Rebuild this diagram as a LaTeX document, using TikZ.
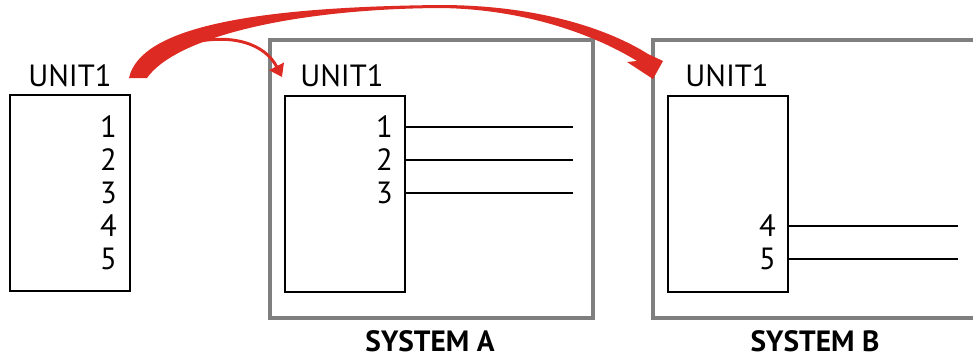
\documentclass[tikz,border=0pt]{standalone}
\usepackage{fontspec}
\setmainfont{PT Sans}
\usetikzlibrary{arrows.meta}
\definecolor{arrred}{HTML}{DD2A22}
\definecolor{sysgray}{HTML}{7F7F7F}
\begin{document}
\begin{tikzpicture}[x=0.75pt,y=-0.75pt,
  sysbox/.style={draw=sysgray, line width=3pt, anchor=north west, inner sep=0, outer sep=0},
  unitbox/.style={draw=black, line width=1pt, anchor=north west, minimum width=90pt, minimum height=147pt, inner sep=0, outer sep=0},
  lbl/.style={font=\fontsize{23}{23}\selectfont, inner sep=0},
  num/.style={lbl, anchor=east},
  syslbl/.style={font=\fontsize{22}{22}\selectfont\bfseries, inner sep=0, anchor=base},
  wire/.style={draw=black, line width=1pt}]
\useasboundingbox (0,0) rectangle (973,358);
\clip (0,0) rectangle (973,358);

% left unit
\node[lbl] (t0) at (70,76) {UNIT1};
\node[unitbox] (u0) at (10,95) {};
\foreach \i/\y in {1/127,2/160,3/193,4/226,5/259}
  \node[num] (l\i) at (117,\y) {\i};

% system A
\node[sysbox, minimum width=242.25pt, minimum height=208.5pt] (sa) at (270,40) {};
\node[lbl] (ta) at (342,76) {UNIT1};
\node[unitbox] (ua) at (285,96) {};
\foreach \i/\y in {1/127,2/160,3/193}{
  \node[num] (a\i) at (393,\y) {\i};
  \coordinate (ae\i) at (573,\y);
  \draw[wire] (ua.east |- a\i) -- (ae\i);
}
\node[syslbl] (la) at (430,351) {SYSTEM A};

% system B
\node[sysbox, minimum width=250pt, minimum height=208.5pt] (sb) at (653,40) {};
\node[lbl] (tb) at (727,76) {UNIT1};
\node[unitbox] (ub) at (668,96) {};
\foreach \i/\y in {4/226,5/259}{
  \node[num] (b\i) at (776,\y) {\i};
  \coordinate (be\i) at (958,\y);
  \draw[wire] (ub.east |- b\i) -- (be\i);
}
\node[syslbl] (lb) at (815,351) {SYSTEM B};

% big red arrow (tapered)
\fill[arrred] (129,78) .. controls (140,28) and (250,7) .. (440,5)
  .. controls (540,5) and (610,30) .. (648,54)
  -- (663,61) -- (653,79) -- (627,62) -- (637,61)
  .. controls (600,38) and (530,9) .. (440,8)
  .. controls (290,9) and (175,38) .. (147,78) -- cycle;

% small red arrow
\coordinate (s0) at (186,44);
\coordinate (s1) at (282,77);
\draw[arrred, line width=2.2pt, -{Triangle[length=9pt,width=12pt]}]
  (s0) .. controls (232,32) and (265,44) .. (s1);
\end{tikzpicture}
\end{document}
